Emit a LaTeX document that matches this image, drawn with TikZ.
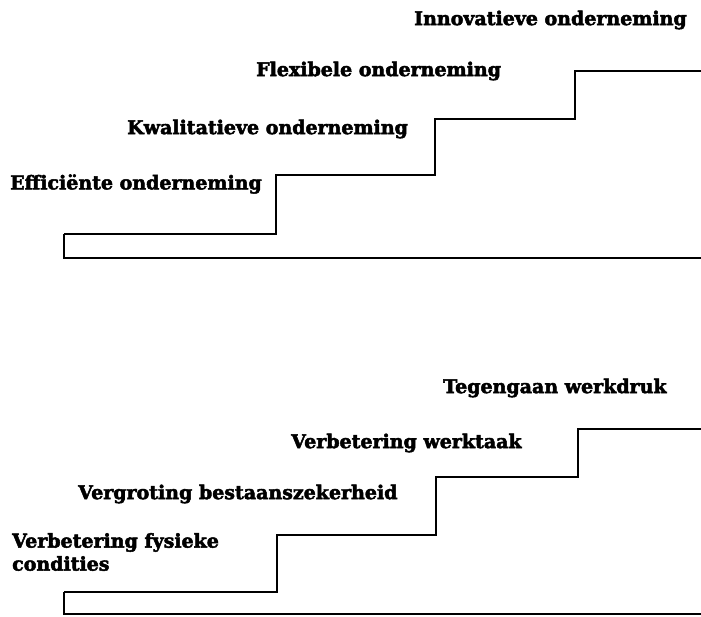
\documentclass[tikz,border=0pt]{standalone}
\usepackage{fontspec}
\setmainfont{DejaVu Serif}
\newfontfamily\heavyfont{DejaVu Serif Bold}[FakeBold=2.6]

\begin{document}
\begin{tikzpicture}[
  x=1pt, y=-1pt,
  stair/.style={line width=2.6pt, line join=miter},
  base/.style={line width=1.4pt},
  lab/.style={font=\heavyfont\fontsize{19}{23}\selectfont, inner sep=0pt, anchor=west, align=left}
]
\useasboundingbox (0,0) rectangle (701,617);

% upper stairs: onderneming
\coordinate (Ub) at (701,258);
\coordinate (Ul) at (64,258);
\coordinate (U0) at (64,234);
\coordinate (U1) at (276,234);
\coordinate (U2) at (435,175);
\coordinate (U3) at (575,119);
\coordinate (Ut) at (701,71);
\draw[base] (Ub) -- (Ul) -- (U0);
\draw[stair] (U0) -- (U1) |- (U2) |- (U3) |- (Ut);
\node[lab] (eff) at (10,184) {Efficiënte onderneming};
\node[lab] (kwa) at (127,129) {Kwalitatieve onderneming};
\node[lab] (fle) at (256,71) {Flexibele onderneming};
\node[lab] (inn) at (414,20) {Innovatieve onderneming};

% lower stairs: arbeid
\coordinate (Lb) at (701,614);
\coordinate (Ll) at (64,614);
\coordinate (L0) at (64,592);
\coordinate (L1) at (277,592);
\coordinate (L2) at (436,535);
\coordinate (L3) at (578,477);
\coordinate (Lt) at (701,429);
\draw[base] (Lb) -- (Ll) -- (L0);
\draw[stair] (L0) -- (L1) |- (L2) |- (L3) |- (Lt);
\node[lab] (fys) at (12,552) {Verbetering fysieke\\condities};
\node[lab] (ver) at (78,494) {Vergroting bestaanszekerheid};
\node[lab] (wer) at (291,443) {Verbetering werktaak};
\node[lab] (teg) at (443,388) {Tegengaan werkdruk};
\end{tikzpicture}
\end{document}
